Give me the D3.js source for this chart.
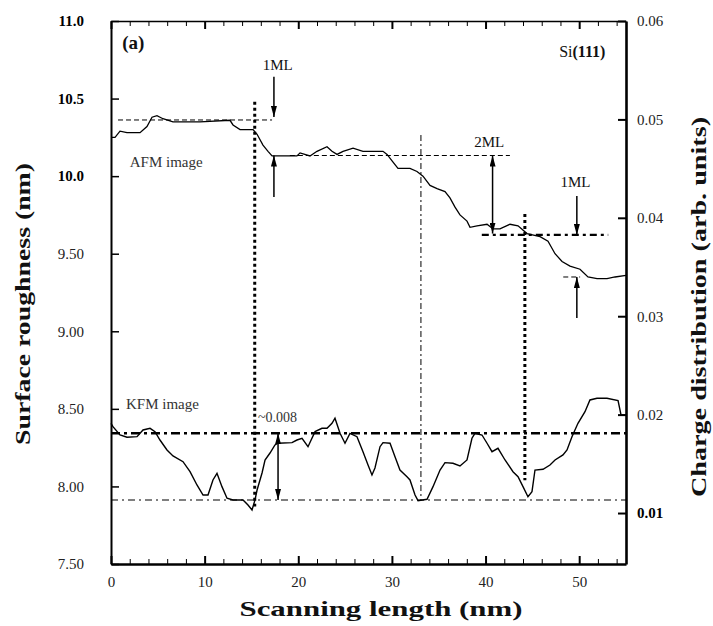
<!DOCTYPE html>
<html>
<head>
<meta charset="utf-8">
<script src="https://cdn.jsdelivr.net/npm/d3@7"></script>
<style>
  body { margin: 0; background: #fff; }
  svg { display: block; }
  text { font-family: "Liberation Serif", "DejaVu Serif", serif; fill: #111; }
</style>
</head>
<body>
<svg id="chart" width="713" height="626"></svg>
<script>
"use strict";

// AFM profile, surface roughness (nm) against scanning length (nm)
var afmX = [0, 0.43, 0.96, 1.71, 2.35, 3.1, 3.84, 4.38, 4.91, 5.55, 6.62, 9.5, 12.71, 13.03, 13.78,
  15.17, 15.6, 16.23, 16.77, 17.2, 19.86, 20.19, 21.25, 22.0, 23.07, 23.6, 24.14, 24.78, 25.85,
  26.91, 29.05, 29.48, 30.12, 30.65, 31.93, 32.68, 33.32, 34.07, 34.82, 35.67, 36.2, 36.74, 37.27,
  38.02, 38.34, 39.09, 40.16, 40.8, 41.54, 42.61, 43.47, 44.43, 45.82, 46.67, 47.42, 48.17, 49.02,
  50.09, 50.94, 51.91, 52.97, 53.83, 55];
var afmY = [10.25, 10.25, 10.29, 10.28, 10.28, 10.28, 10.32, 10.38, 10.39, 10.37, 10.35, 10.35, 10.36, 10.33, 10.30,
  10.30, 10.27, 10.20, 10.16, 10.13, 10.13, 10.15, 10.13, 10.16, 10.19, 10.16, 10.14, 10.16, 10.18,
  10.16, 10.16, 10.14, 10.09, 10.05, 10.05, 10.03, 10.00, 9.94, 9.92, 9.90, 9.86, 9.80, 9.75,
  9.71, 9.67, 9.68, 9.69, 9.66, 9.66, 9.69, 9.68, 9.63, 9.61, 9.58, 9.50, 9.45, 9.42,
  9.40, 9.35, 9.34, 9.34, 9.35, 9.36];

// KFM profile, charge distribution (arb. units)
var kfmX = [0, 0.21, 0.96, 1.71, 2.78, 3.42, 4.17, 4.70, 5.23, 5.98, 6.62, 7.69, 8.44, 9.18, 9.83,
  10.36, 10.89, 11.32, 11.85, 12.39, 13.03, 14.10, 14.63, 15.06, 15.38, 15.60, 16.13, 16.45, 16.98,
  17.51, 17.84, 19.33, 19.86, 20.40, 21.04, 21.79, 22.53, 23.07, 23.60, 23.92, 24.46, 24.99, 25.52,
  26.27, 26.91, 27.45, 27.87, 28.19, 28.73, 29.05, 29.80, 30.33, 30.86, 31.61, 31.93, 32.47, 32.79,
  33.75, 34.39, 35.14, 35.67, 36.52, 37.27, 38.02, 38.55, 38.87, 39.62, 40.16, 40.69, 41.33, 42.08,
  42.93, 43.47, 44.00, 44.53, 44.96, 45.28, 46.14, 46.88, 47.42, 48.27, 48.70, 49.23, 49.87, 50.62,
  51.15, 51.90, 52.97, 54.15, 54.47, 55];
var kfmY = [0.01912, 0.01878, 0.01793, 0.01770, 0.01776, 0.01844, 0.01861, 0.01827, 0.01742, 0.01641, 0.01580, 0.01522, 0.01420, 0.01285, 0.01183,
  0.01183, 0.01336, 0.01404, 0.01268, 0.01150, 0.01133, 0.01133, 0.01082, 0.01031, 0.01133, 0.01234, 0.01407, 0.01539, 0.01610,
  0.01692, 0.01709, 0.01715, 0.01742, 0.01760, 0.01674, 0.01827, 0.01861, 0.01861, 0.01912, 0.01963, 0.01810, 0.01709, 0.01810,
  0.01776, 0.01623, 0.01488, 0.01387, 0.01458, 0.01674, 0.01715, 0.01709, 0.01573, 0.01437, 0.01369, 0.01336, 0.01183, 0.01126,
  0.01140, 0.01268, 0.01437, 0.01512, 0.01506, 0.01478, 0.01539, 0.01760, 0.01810, 0.01793, 0.01709, 0.01623, 0.01658, 0.01539,
  0.01420, 0.01369, 0.01268, 0.01166, 0.01217, 0.01437, 0.01445, 0.01488, 0.01539, 0.01590, 0.01641, 0.01776, 0.01912, 0.02030,
  0.02149, 0.02166, 0.02166, 0.02142, 0.01996, 0.01996];

// tick labels
var xTicks = [0, 10, 20, 30, 40, 50];
var leftTicks = [11.0, 10.5, 10.0, 9.5, 9.0, 8.5, 8.0, 7.5];
var leftLabels = ["11.0", "10.5", "10.0", "9.50", "9.00", "8.50", "8.00", "7.50"];
var rightTicks = [0.06, 0.05, 0.04, 0.03, 0.02, 0.01];
var rightLabels = ["0.06", "0.05", "0.04", "0.03", "0.02", "0.01"];

// step levels (AFM, nm) and charge levels (KFM)
var afmLevels = [
  { y: 10.362, x1: 0.75, x2: 17.2, kind: "thin" },
  { y: 10.133, x1: 19.1, x2: 42.6, kind: "thin" },
  { y: 9.621, x1: 39.6, x2: 53.1, kind: "thick" },
  { y: 9.35, x1: 48.3, x2: 50.1, kind: "thin" } ];
var kfmLevels = [
  { y: 0.0181, kind: "thick" },
  { y: 0.01133, kind: "thin" } ];
var markers = [
  { x: 15.35, y1: 10.48, y2: 7.87, kind: "dots" },
  { x: 44.2, y1: 9.756, y2: 8.04, kind: "dots" },
  { x: 33.1, y1: 10.265, y2: 7.913, kind: "dashdot" } ];

// arrows, [x, from, to] in left-axis units unless noted
var arrows = [
  { x: 17.4, from: 10.64, to: 10.381, head: "end" },
  { x: 17.4, from: 9.866, to: 10.133, head: "end" },
  { x: 40.75, from: 10.133, to: 9.63, head: "both" },
  { x: 49.75, from: 9.872, to: 9.621, head: "end" },
  { x: 49.75, from: 9.086, to: 9.35, head: "end" } ];
var kfmArrows = [ { x: 17.84, from: 0.0181, to: 0.01133, head: "both" } ];

var notes = [
  { text: "1ML", x: 17.8, y: 10.716, anchor: "middle" },
  { text: "2ML", x: 40.4, y: 10.222, anchor: "middle" },
  { text: "1ML", x: 49.6, y: 9.962, anchor: "middle" },
  { text: "AFM image", x: 2.0, y: 10.09, anchor: "start" },
  { text: "KFM image", x: 1.6, y: 8.53, anchor: "start" } ];

var svg = d3.select("#chart");
var W = 713, H = 626;
var L = 111, R = 626, T = 21, B = 564;

var x = d3.scaleLinear().domain([0, 55]).range([L, R]);
var yL = d3.scaleLinear().domain([7.5, 11]).range([B, T]);
var yR = d3.scaleLinear().domain([0.00482, 0.06]).range([B, T]);

var defs = svg.append("defs");
defs.append("marker")
  .attr("id", "ah")
  .attr("viewBox", "0 0 10 10")
  .attr("refX", 10).attr("refY", 5)
  .attr("markerUnits", "userSpaceOnUse")
  .attr("markerWidth", 11).attr("markerHeight", 6)
  .attr("preserveAspectRatio", "none")
  .attr("orient", "auto-start-reverse")
  .append("path").attr("d", "M0,0L10,5L0,10z").attr("fill", "#000");

// level lines
svg.selectAll("line.afmlev").data(afmLevels).enter().append("line")
  .attr("class", "afmlev")
  .attr("x1", function(d) { return x(d.x1) })
  .attr("x2", function(d) { return x(d.x2) })
  .attr("y1", function(d) { return yL(d.y) })
  .attr("y2", function(d) { return yL(d.y) })
  .attr("stroke", "#000")
  .attr("stroke-width", function(d) { return d.kind == "thick" ? 2.2 : 1 })
  .attr("stroke-dasharray", function(d) { return d.kind == "thick" ? "7,4,3,4" : "5,3" });

svg.selectAll("line.kfmlev").data(kfmLevels).enter().append("line")
  .attr("class", "kfmlev")
  .attr("x1", L).attr("x2", R)
  .attr("y1", function(d) { return yR(d.y) })
  .attr("y2", function(d) { return yR(d.y) })
  .attr("stroke", "#000")
  .attr("stroke-width", function(d) { return d.kind == "thick" ? 2.6 : 1.1 })
  .attr("stroke-dasharray", function(d) { return d.kind == "thick" ? "9,4,3,4" : "7,4,2,4" });

svg.selectAll("line.vmark").data(markers).enter().append("line")
  .attr("class", "vmark")
  .attr("x1", function(d) { return x(d.x) })
  .attr("x2", function(d) { return x(d.x) })
  .attr("y1", function(d) { return yL(d.y1) })
  .attr("y2", function(d) { return yL(d.y2) })
  .attr("stroke", "#000")
  .attr("stroke-width", function(d) { return d.kind == "dots" ? 3 : 1 })
  .attr("stroke-dasharray", function(d) { return d.kind == "dots" ? "3,3" : "6,3,2,3" });

// curves
var afm = afmX.map(function(v, i) { return [v, afmY[i]] });
var kfm = kfmX.map(function(v, i) { return [v, kfmY[i]] });

svg.append("path").datum(afm)
  .attr("fill", "none").attr("stroke", "#000").attr("stroke-width", 1.3)
  .attr("d", d3.line().x(function(d) { return x(d[0]) }).y(function(d) { return yL(d[1]) }));
svg.append("path").datum(kfm)
  .attr("fill", "none").attr("stroke", "#000").attr("stroke-width", 1.4)
  .attr("d", d3.line().x(function(d) { return x(d[0]) }).y(function(d) { return yR(d[1]) }));

// arrows
function drawArrows(data, ys) {
  svg.append("g").selectAll("line").data(data).enter().append("line")
    .attr("x1", function(d) { return x(d.x) })
    .attr("x2", function(d) { return x(d.x) })
    .attr("y1", function(d) { return ys(d.from) })
    .attr("y2", function(d) { return ys(d.to) })
    .attr("stroke", "#000").attr("stroke-width", 1.5)
    .attr("marker-end", "url(#ah)")
    .attr("marker-start", function(d) { return d.head == "both" ? "url(#ah)" : null });
}
drawArrows(arrows, yL);
drawArrows(kfmArrows, yR);

// notes
svg.append("g").selectAll("text").data(notes).enter().append("text")
  .attr("x", function(d) { return x(d.x) })
  .attr("y", function(d) { return yL(d.y) })
  .attr("dy", "0.35em")
  .attr("text-anchor", function(d) { return d.anchor })
  .style("font-size", "15px")
  .style("fill", function(d) { return d.text.indexOf("image") > 0 ? "#333" : "#111" })
  .text(function(d) { return d.text });

svg.append("text").attr("x", x(15.7)).attr("y", yR(0.0197)).attr("dy", "0.35em")
  .style("font-size", "14px").style("fill", "#333").text("~0.008");

svg.append("text").attr("x", x(1.2)).attr("y", yL(10.86)).attr("dy", "0.35em")
  .style("font-size", "19px").style("font-weight", "bold").text("(a)");

var si = svg.append("text").attr("x", x(52.8)).attr("y", yL(10.805)).attr("dy", "0.35em")
  .attr("text-anchor", "end").style("font-size", "16px");
si.append("tspan").text("Si");
si.append("tspan").style("font-weight", "bold").text("(111)");

// axes
var gB = svg.append("g").attr("transform", "translate(0," + B + ")")
  .call(d3.axisBottom(x).tickValues(d3.range(0, 56, 2)).tickSizeInner(-5).tickSizeOuter(0).tickPadding(12)
    .tickFormat(function(d) { return d % 10 == 0 ? d : "" }));
gB.selectAll(".tick line").filter(function(d) { return d % 10 == 0 }).attr("y2", -8).attr("stroke-width", 2);

var gT = svg.append("g").attr("transform", "translate(0," + T + ")")
  .call(d3.axisTop(x).tickValues(d3.range(0, 56, 2)).tickSizeInner(-5).tickSizeOuter(0).tickFormat(""));
gT.selectAll(".tick line").filter(function(d) { return d % 10 == 0 }).attr("y2", 8).attr("stroke-width", 2);

var gL = svg.append("g").attr("transform", "translate(" + L + ",0)")
  .call(d3.axisLeft(yL).tickValues(leftTicks).tickSizeInner(-8).tickSizeOuter(0).tickPadding(27)
    .tickFormat(function(d, i) { return leftLabels[i] }));

var gR = svg.append("g").attr("transform", "translate(" + R + ",0)")
  .call(d3.axisRight(yR).tickValues(rightTicks).tickSizeInner(-8).tickSizeOuter(0).tickPadding(11)
    .tickFormat(function(d, i) { return rightLabels[i] }));

[gB, gT, gL, gR].forEach(function(g) {
  g.selectAll("text").style("font-family", "'Liberation Serif', serif").style("font-size", "15px").style("fill", "#222");
  g.selectAll(".tick line").attr("stroke", "#000");
  g.select(".domain").attr("stroke", "#000");
});
gB.select(".domain").attr("stroke-width", 2.6);
gT.select(".domain").attr("stroke-width", 1.6);
gL.select(".domain").attr("stroke-width", 2);
gR.select(".domain").attr("stroke-width", 2.6);
gL.selectAll(".tick line").attr("stroke-width", 1.5);
gR.selectAll(".tick line").attr("stroke-width", 2);
gL.selectAll(".tick text").filter(function(d) { return d >= 10 }).style("font-weight", "bold").style("fill", "#000");
gR.selectAll(".tick text").filter(function(d) { return d < 0.015 }).style("font-weight", "bold").style("fill", "#000");

// axis titles
svg.append("text")
  .attr("transform", "translate(30," + 304 + ") rotate(-90)")
  .attr("text-anchor", "middle")
  .attr("textLength", 282).attr("lengthAdjust", "spacingAndGlyphs")
  .style("font-size", "22px").style("font-weight", "bold")
  .text("Surface roughness (nm)");

svg.append("text")
  .attr("transform", "translate(706," + 307 + ") rotate(-90)")
  .attr("text-anchor", "middle")
  .attr("textLength", 380).attr("lengthAdjust", "spacingAndGlyphs")
  .style("font-size", "21px").style("font-weight", "bold")
  .text("Charge distribution (arb. units)");

svg.append("text")
  .attr("x", 381).attr("y", 616)
  .attr("text-anchor", "middle")
  .attr("textLength", 283).attr("lengthAdjust", "spacingAndGlyphs")
  .style("font-size", "22px").style("font-weight", "bold")
  .text("Scanning length (nm)");
</script>
</body>
</html>
